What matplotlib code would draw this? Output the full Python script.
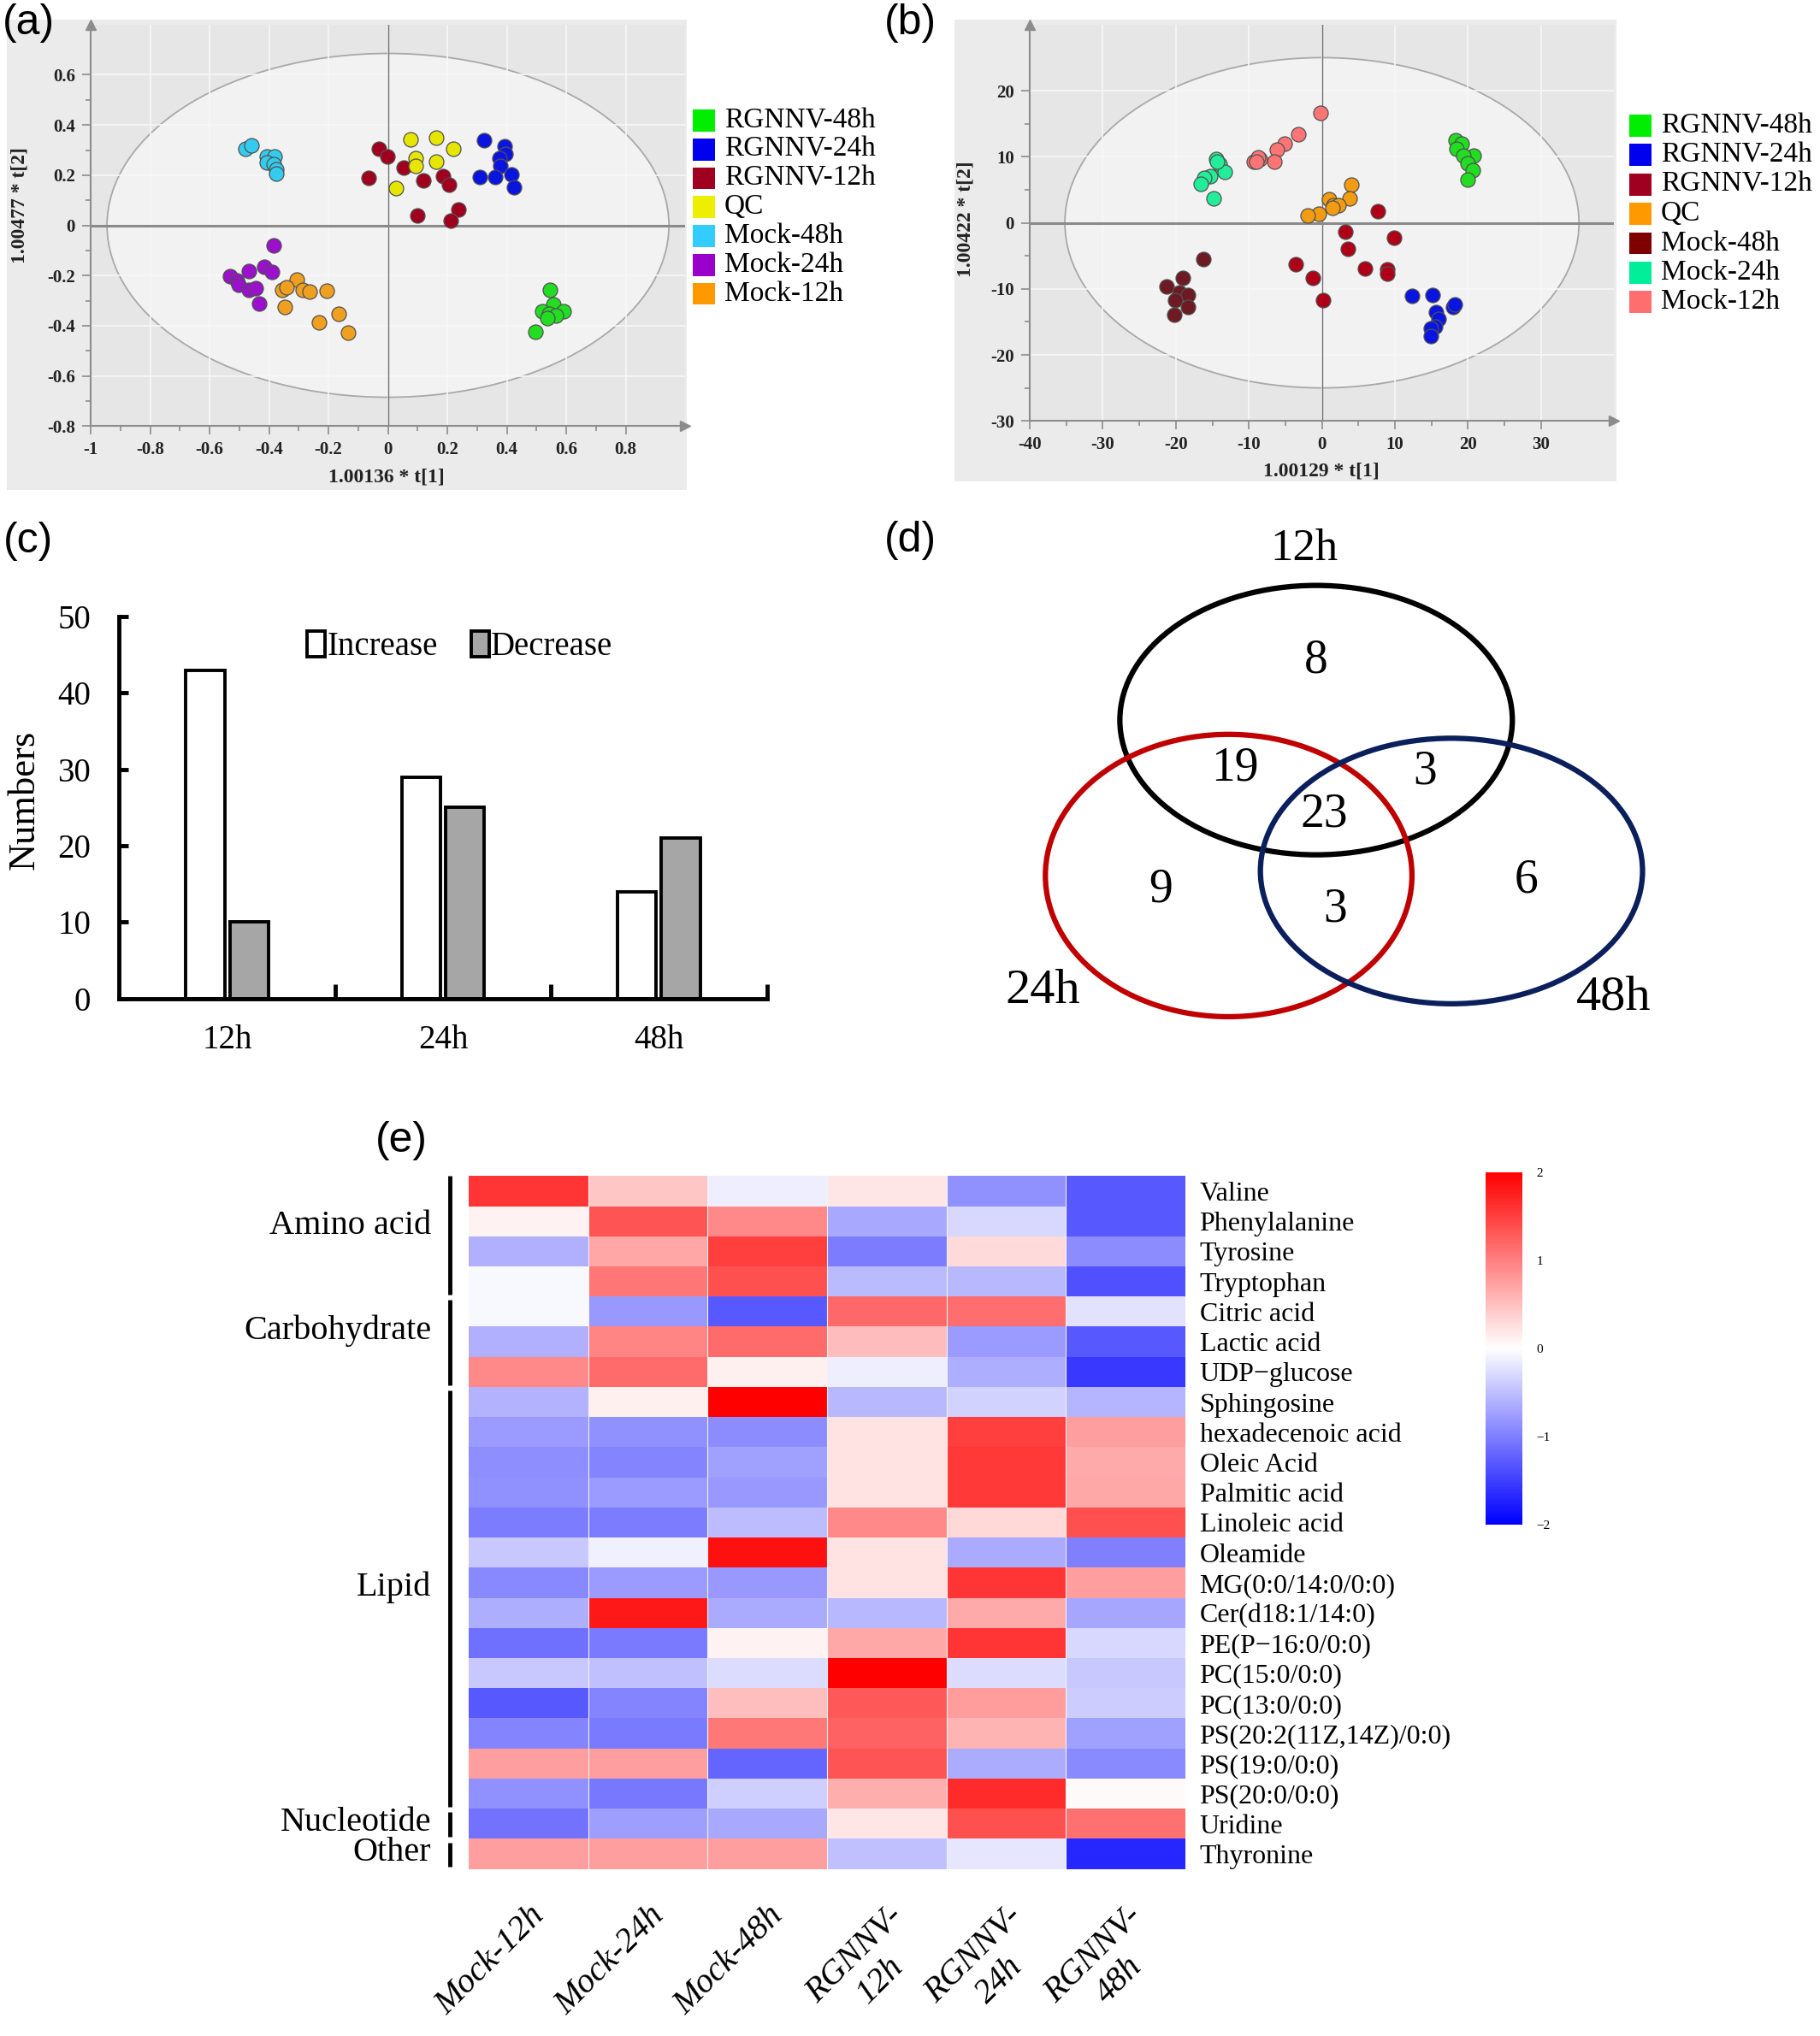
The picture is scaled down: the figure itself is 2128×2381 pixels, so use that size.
import numpy as np
import matplotlib
matplotlib.use('Agg')
import matplotlib.pyplot as plt
from matplotlib.patches import Ellipse, Rectangle
from matplotlib.colors import LinearSegmentedColormap

plt.rcParams['font.family'] = 'Liberation Serif'
plt.rcParams['axes.unicode_minus'] = False

# ---------------- data ----------------
groups = ['RGNNV-48h', 'RGNNV-24h', 'RGNNV-12h', 'QC', 'Mock-48h', 'Mock-24h', 'Mock-12h']

# (a) score plot, one list per group (order as groups)
pca_a_t1 = [
    [0.546, 0.555, 0.518, 0.590, 0.542, 0.565, 0.536, 0.497],
    [0.322, 0.392, 0.396, 0.375, 0.379, 0.309, 0.361, 0.414, 0.423],
    [-0.031, -0.002, -0.066, 0.052, 0.118, 0.186, 0.204, 0.099, 0.237, 0.212],
    [0.076, 0.163, 0.221, 0.093, 0.093, 0.163, 0.027],
    [-0.478, -0.458, -0.406, -0.381, -0.406, -0.384, -0.375, -0.377],
    [-0.384, -0.416, -0.389, -0.468, -0.530, -0.507, -0.501, -0.468, -0.445, -0.433],
    [-0.307, -0.355, -0.342, -0.287, -0.264, -0.206, -0.348, -0.167, -0.231, -0.134],
]
pca_a_t2 = [
    [-0.256, -0.315, -0.341, -0.344, -0.354, -0.360, -0.371, -0.425],
    [0.340, 0.316, 0.284, 0.269, 0.238, 0.194, 0.191, 0.204, 0.153],
    [0.306, 0.275, 0.190, 0.231, 0.179, 0.196, 0.163, 0.040, 0.063, 0.019],
    [0.344, 0.348, 0.304, 0.269, 0.238, 0.254, 0.150],
    [0.306, 0.319, 0.275, 0.275, 0.250, 0.244, 0.225, 0.206],
    [-0.079, -0.166, -0.185, -0.181, -0.203, -0.219, -0.238, -0.256, -0.250, -0.310],
    [-0.215, -0.256, -0.248, -0.256, -0.265, -0.260, -0.325, -0.354, -0.385, -0.429],
]

# (b) score plot
pca_b_t1 = [
    [18.3, 19.1, 18.4, 20.8, 19.4, 19.9, 20.6, 20.0],
    [12.3, 15.2, 15.6, 16.0, 15.5, 14.9, 14.9, 18.0, 18.2],
    [7.7, 3.2, 9.9, 3.6, -3.6, -1.3, 5.9, 8.9, 8.9, 0.2],
    [4.0, 3.8, 1.0, 1.6, 2.3, -0.4, -2.0, 1.4],
    [-16.2, -19.0, -21.3, -19.5, -18.3, -20.1, -18.4, -20.2],
    [-14.5, -14.0, -13.3, -15.3, -16.1, -16.6, -14.8, -14.4],
    [-0.2, -3.2, -5.1, -6.2, -6.5, -8.5, -9.3, -8.7, -9.0],
]
pca_b_t2 = [
    [12.5, 12.0, 11.2, 10.1, 10.2, 9.0, 7.9, 6.5],
    [-11.1, -10.9, -13.5, -14.6, -15.7, -16.0, -17.2, -12.7, -12.4],
    [1.7, -1.3, -2.2, -3.9, -6.3, -8.3, -6.9, -7.0, -7.7, -11.7],
    [5.7, 3.7, 3.5, 2.7, 2.6, 1.4, 1.1, 2.3],
    [-5.5, -8.4, -9.7, -10.5, -11.0, -11.7, -12.8, -13.9],
    [9.7, 8.9, 7.7, 7.1, 6.8, 5.9, 3.7, 9.2],
    [16.6, 13.4, 12.0, 11.1, 9.3, 9.7, 9.3, 9.9, 9.2],
]

# (c) numbers of changed metabolites
times = ['12h', '24h', '48h']
increase = [43, 29, 14]
decrease = [10, 25, 21]

# (d) venn counts: 12h only, 12&24, 12&48, all, 24 only, 24&48, 48 only
venn_counts = [8, 19, 3, 23, 9, 3, 6]

# (e) heatmap
samples = ['Mock-12h', 'Mock-24h', 'Mock-48h', 'RGNNV-\n12h', 'RGNNV-\n24h', 'RGNNV-\n48h']
metabolites = ['Valine', 'Phenylalanine', 'Tyrosine', 'Tryptophan', 'Citric acid',
               'Lactic acid', 'UDP\u2212glucose', 'Sphingosine', 'hexadecenoic acid',
               'Oleic Acid', 'Palmitic acid', 'Linoleic acid', 'Oleamide',
               'MG(0:0/14:0/0:0)', 'Cer(d18:1/14:0)', 'PE(P\u221216:0/0:0)', 'PC(15:0/0:0)',
               'PC(13:0/0:0)', 'PS(20:2(11Z,14Z)/0:0)', 'PS(19:0/0:0)', 'PS(20:0/0:0)',
               'Uridine', 'Thyronine']
classes = ['Amino acid', 'Carbohydrate', 'Lipid', 'Nucleotide', 'Other']
class_sizes = [4, 3, 14, 1, 1]
heat = [
    [1.58, 0.45, -0.13, 0.20, -0.87, -1.30],
    [0.10, 1.33, 0.93, -0.68, -0.30, -1.30],
    [-0.62, 0.70, 1.50, -1.03, 0.29, -0.90],
    [-0.05, 1.07, 1.37, -0.54, -0.56, -1.37],
    [-0.05, -0.80, -1.31, 1.18, 1.14, -0.23],
    [-0.62, 0.96, 1.17, 0.52, -0.79, -1.31],
    [0.93, 1.16, 0.12, -0.13, -0.64, -1.55],
    [-0.60, 0.12, 2.00, -0.55, -0.35, -0.58],
    [-0.79, -0.87, -0.90, 0.22, 1.50, 0.75],
    [-0.88, -0.96, -0.75, 0.22, 1.56, 0.67],
    [-0.87, -0.79, -0.80, 0.22, 1.56, 0.68],
    [-1.03, -1.03, -0.52, 0.93, 0.30, 1.37],
    [-0.43, -0.12, 1.87, 0.22, -0.66, -1.00],
    [-0.93, -0.79, -0.80, 0.22, 1.58, 0.75],
    [-0.64, 1.81, -0.66, -0.56, 0.67, -0.70],
    [-1.12, -1.04, 0.10, 0.68, 1.58, -0.30],
    [-0.43, -0.50, -0.28, 2.00, -0.28, -0.43],
    [-1.30, -0.96, 0.50, 1.30, 0.78, -0.40],
    [-0.96, -1.04, 1.06, 1.23, 0.58, -0.75],
    [0.75, 0.75, -1.21, 1.33, -0.65, -0.92],
    [-0.87, -1.06, -0.39, 0.64, 1.67, 0.04],
    [-1.10, -0.76, -0.68, 0.20, 1.37, 1.12],
    [0.75, 0.75, 0.75, -0.49, -0.20, -1.69],
]

# ---------------- layout helpers (reference layout units) ----------------
W, H = 1405.0, 1572.0


def fx(x):
    return x / W


def fy(y):
    return 1 - y / H


def box(x0, y0, x1, y1):
    return [fx(x0), fy(y1), fx(x1) - fx(x0), fy(y0) - fy(y1)]


def fmt(v):
    return '%g' % (round(v, 2) + 0.0)


fig = plt.figure(figsize=(21.28, 23.81), dpi=100)


def pca_panel(rect, bgbox, t1, t2, colors, legcolors, xlim, ylim, xticks, yticks,
              minor, ell, xlabel, ylabel, xlab_pos, ylab_pos, leg_x, leg_y0, leg_dy):
    fig.add_artist(Rectangle((fx(bgbox[0]), fy(bgbox[3])), fx(bgbox[2]) - fx(bgbox[0]),
                             fy(bgbox[1]) - fy(bgbox[3]), transform=fig.transFigure,
                             fc='#EBEBEB', ec='none', zorder=0))
    ax = fig.add_axes(box(*rect))
    ax.set_facecolor('#E6E6E6')
    ax.add_patch(Ellipse((0, 0), 2 * ell[0], 2 * ell[1], fc='#F2F2F2', ec='#A8A8A8',
                         lw=1.3, zorder=0.3))
    ax.axvline(0, color='#707070', lw=1.0, zorder=1)
    ax.axhline(0, color='#8A8A8A', lw=2.2, zorder=1)
    for xs, ys, c in zip(t1, t2, colors):
        ax.scatter(xs, ys, s=150, c=c, edgecolors='#505050', linewidths=0.9, zorder=3)
    ax.set_xlim(*xlim)
    ax.set_ylim(*ylim)
    ax.set_xticks(xticks)
    ax.set_xticklabels([fmt(v) for v in xticks])
    ax.set_yticks(yticks)
    ax.set_yticklabels([fmt(v) for v in yticks])
    ax.set_xticks(np.arange(xlim[0], xticks[-1] + minor / 2, minor), minor=True)
    ax.set_yticks(np.arange(ylim[0], yticks[-1] + minor / 2, minor), minor=True)
    ax.grid(True, color='#F7F7F7', lw=1.2)
    ax.set_axisbelow(True)
    for s in ['top', 'right']:
        ax.spines[s].set_visible(False)
    for s in ['left', 'bottom']:
        ax.spines[s].set_color('#8C8C8C')
        ax.spines[s].set_linewidth(1.5)
    ax.tick_params(which='both', colors='#8C8C8C', width=1.2, labelcolor='#222222')
    ax.tick_params(which='major', length=7, labelsize=15, pad=6)
    ax.tick_params(which='minor', length=4)
    for lab in ax.get_xticklabels() + ax.get_yticklabels():
        lab.set_fontweight('bold')
    ax.plot([1], [0], marker='>', ms=9, color='#8C8C8C', transform=ax.transAxes, clip_on=False)
    ax.plot([0], [1], marker='^', ms=9, color='#8C8C8C', transform=ax.transAxes, clip_on=False)
    ax.set_xlabel(xlabel, fontsize=17, fontweight='bold', color='#222222')
    ax.set_ylabel(ylabel, fontsize=17, fontweight='bold', color='#222222')
    ax.xaxis.set_label_coords(*xlab_pos)
    ax.yaxis.set_label_coords(*ylab_pos)
    for i, (g, c) in enumerate(zip(groups, legcolors)):
        yc = leg_y0 + i * leg_dy
        fig.add_artist(Rectangle((fx(leg_x), fy(yc + 8.5)), fx(17), 17 / H,
                                 transform=fig.transFigure, fc=c, ec='none'))
        fig.text(fx(leg_x + 24), fy(yc), g, fontsize=24, va='center', ha='left')
    return ax


# (a)
pca_panel((70, 19, 529, 329), (5, 15, 530, 378), pca_a_t1, pca_a_t2,
          ['#22DD22', '#0A14E0', '#A0001E', '#E6E600', '#33CCEE', '#9A10CC', '#F0A020'],
          ['#00EE00', '#0000EE', '#A00020', '#EEEE00', '#33CCFF', '#9900CC', '#FF9900'],
          (-1, 1.0), (-0.8, 0.8), np.arange(-1, 0.81, 0.2),
          np.arange(-0.8, 0.61, 0.2), 0.1, (0.945, 0.685),
          '1.00136 * t[1]', '1.00477 * t[2]', (0.497, -0.105), (-0.105, 0.55),
          535, 93, 22.3)

# (b)
pca_panel((795, 19, 1246, 325), (737, 15, 1248, 372), pca_b_t1, pca_b_t2,
          ['#22DD22', '#0A14E0', '#B00018', '#F39C12', '#6E1A22', '#22EE99', '#FF7575'],
          ['#00EE00', '#0000EE', '#A00020', '#FF9900', '#7F0000', '#00EE99', '#FF6F6F'],
          (-40, 40), (-30, 30), np.arange(-40, 31, 10), np.arange(-30, 21, 10), 5,
          (35.2, 25.0), '1.00129 * t[1]', '1.00422 * t[2]', (0.499, -0.105),
          (-0.095, 0.51), 1258, 97, 22.7)

# (c)
ax_c = fig.add_axes(box(92, 476, 592, 771))
x = np.arange(len(times))
ax_c.bar(x - 0.102, increase, 0.18, color='white', edgecolor='black', lw=2.8, label='Increase')
ax_c.bar(x + 0.102, decrease, 0.18, color='#A6A6A6', edgecolor='black', lw=2.8, label='Decrease')
ax_c.set_xlim(-0.5, 2.5)
ax_c.set_ylim(0, 50)
for s in ['top', 'right']:
    ax_c.spines[s].set_visible(False)
for s in ['left', 'bottom']:
    ax_c.spines[s].set_linewidth(3.5)
ax_c.set_yticks(range(0, 51, 10))
ax_c.tick_params(axis='y', direction='in', length=8, width=3.5, labelsize=28, pad=24)
ax_c.set_xticks(x, times)
ax_c.set_xticks([0.5, 1.5, 2.5], minor=True)
ax_c.tick_params(axis='x', which='major', length=0, labelsize=28, pad=22)
ax_c.tick_params(axis='x', which='minor', direction='in', length=12, width=3.5)
ax_c.set_ylabel('Numbers', fontsize=32)
ax_c.yaxis.set_label_coords(-0.12, 0.52)
ax_c.legend(loc='center', bbox_to_anchor=(0.526, 0.92), ncol=2, frameon=False, fontsize=28,
            handlelength=0.55, handleheight=0.8, handletextpad=0.05, columnspacing=1.0)

# (d)
ax_d = fig.add_axes(box(760, 395, 1300, 800))
ax_d.set_xlim(760, 1300)
ax_d.set_ylim(800, 395)
ax_d.axis('off')
venn_ellipses = [((1016, 556), 303, 208, 'black'), ((948.5, 676), 283, 218, '#C00000'),
                 ((1120.5, 672.5), 295, 205, '#0A1F5C')]
for c, w, h, col in venn_ellipses:
    ax_d.add_patch(Ellipse(c, w, h, fill=False, ec=col, lw=4.5))
venn_pos = [(1016, 510), (953, 593), (1100, 596), (1022, 629), (896, 687), (1031, 702), (1178, 680)]
for n, (px, py) in zip(venn_counts, venn_pos):
    ax_d.text(px, py, str(n), fontsize=40, ha='center', va='center')
for t, (px, py), fs in zip(times, [(1007, 424), (805, 765), (1246, 770)], [38, 42, 42]):
    ax_d.text(px, py, t, fontsize=fs, ha='center', va='center')

# (e)
cmap = LinearSegmentedColormap.from_list('bwr2', ['#0000FF', '#FFFFFF', '#FF0000'])
ax_e = fig.add_axes(box(362, 908, 915, 1443))
mesh = ax_e.pcolormesh(np.array(heat), cmap=cmap, vmin=-2, vmax=2)
ax_e.set_xlim(0, 6)
ax_e.set_ylim(len(metabolites), 0)
for xv in range(1, 6):
    ax_e.axvline(xv, color='#F2F2F2', lw=0.8)
for s in ax_e.spines.values():
    s.set_visible(False)
ax_e.yaxis.tick_right()
ax_e.set_yticks(np.arange(len(metabolites)) + 0.5, metabolites)
ax_e.tick_params(axis='y', length=0, labelsize=23, pad=12)
ax_e.set_xticks(np.arange(len(samples)) + 0.5)
ax_e.set_xticklabels(samples, rotation=45, ha='right', rotation_mode='anchor',
                     fontstyle='italic', fontsize=29, ma='center')
ax_e.tick_params(axis='x', length=0, pad=26)

start = 0
bar_x = -0.163
for cls, n in zip(classes, class_sizes):
    y0 = start + (0.0 if start == 0 else 0.12)
    y1 = start + n - 0.06
    ax_e.plot([bar_x, bar_x], [y0, y1], color='black', lw=3.5, clip_on=False,
              solid_capstyle='butt')
    ax_e.text(-0.315, start + n / 2 - (0.35 if n > 1 else 0.05), cls, fontsize=29,
              ha='right', va='center')
    start += n

cax = fig.add_axes(box(1147, 905, 1175, 1177))
cb = fig.colorbar(mesh, cax=cax, ticks=[-2, -1, 0, 1, 2])
cb.outline.set_visible(False)
cb.ax.set_yticklabels(['\u22122', '\u22121', '0', '1', '2'])
cax.tick_params(length=0, labelsize=11, pad=12)

# panel letters
for lab, (px, py) in zip(['(a)', '(b)', '(c)', '(d)', '(e)'],
                         [(22, 18), (703, 18), (22, 418), (703, 417), (310, 881)]):
    fig.text(fx(px), fy(py), lab, fontsize=36, family='Liberation Sans',
             ha='center', va='center')

fig.savefig('out.png', dpi=100)
